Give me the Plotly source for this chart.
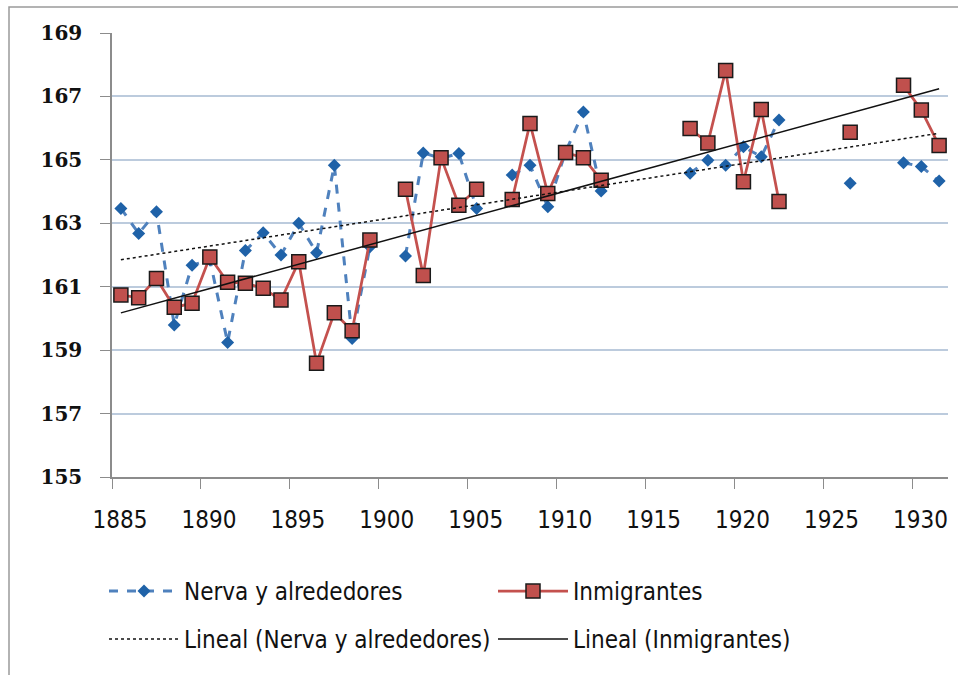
import numpy as np
import plotly.graph_objects as go

# Survey years 1885-1931; None marks years with no recruits measured
years = list(range(1885, 1932))

nerva = [163.47, 162.68, 163.36, 159.79, 161.68, 161.85, 159.24, 162.14, 162.70, 162.00,
         163.00, 162.07, 164.83, 159.37, 162.26, None, 161.97, 165.22, 165.05, 165.20,
         163.47, None, 164.52, 164.83, 163.52, 165.25, 166.51, 164.02, None, None,
         None, None, 164.58, 164.99, 164.83, 165.41, 165.10, 166.26, None, None,
         None, 164.26, None, None, 164.91, 164.79, 164.33]

inmigrantes = [160.74, 160.65, 161.26, 160.35, 160.48, 161.94, 161.14, 161.11, 160.95, 160.58,
               161.79, 158.59, 160.18, 159.61, 162.47, None, 164.07, 161.35, 165.07, 163.57,
               164.07, None, 163.75, 166.15, 163.94, 165.23, 165.07, 164.36, None, None,
               None, None, 165.99, 165.53, 167.82, 164.31, 166.59, 163.69, None, None,
               None, 165.87, None, None, 167.35, 166.57, 165.45]

y_ticks = [155, 157, 159, 161, 163, 165, 167, 169]
x_ticks = [1885, 1890, 1895, 1900, 1905, 1910, 1915, 1920, 1925, 1930]

# each yearly cohort is plotted at mid-year
x = [yr + 0.5 for yr in years]


def linear_trend(xs, ys):
    pts = [(a, b) for a, b in zip(xs, ys) if b is not None]
    px = np.array([p[0] for p in pts])
    py = np.array([p[1] for p in pts])
    slope, icpt = np.polyfit(px, py, 1)
    ends = [px.min(), px.max()]
    return ends, [slope * e + icpt for e in ends]


tn_x, tn_y = linear_trend(x, nerva)
ti_x, ti_y = linear_trend(x, inmigrantes)

W, H = 958, 675
L, R, T, B = 112, 10, 33, 198
SANS = "Liberation Sans Narrow, DejaVu Sans Condensed, sans-serif"

fig = go.Figure()
fig.add_trace(go.Scatter(
    x=x, y=nerva, name="Nerva y alrededores", mode="lines+markers",
    connectgaps=False, legend="legend",
    line=dict(color="#4f81bd", width=3, dash="dash"),
    marker=dict(symbol="diamond", size=10, color="#1f62a8", line=dict(width=0)),
))
fig.add_trace(go.Scatter(
    x=x, y=inmigrantes, name="Inmigrantes", mode="lines+markers",
    connectgaps=False, legend="legend",
    line=dict(color="#c4514e", width=2.75),
    marker=dict(symbol="square", size=14, color="#c0504d",
                line=dict(color="#1a1a1a", width=1.5)),
))
fig.add_trace(go.Scatter(
    x=tn_x, y=tn_y, name="Lineal (Nerva y alrededores)", mode="lines",
    legend="legend2",
    line=dict(color="#111111", width=1.5, dash="dot"),
))
fig.add_trace(go.Scatter(
    x=ti_x, y=ti_y, name="Lineal (Inmigrantes)", mode="lines",
    legend="legend2",
    line=dict(color="#111111", width=1.5),
))

pw = W - L - R
ph = H - T - B
# outer chart frame
fig.add_shape(type="rect", xref="paper", yref="paper",
              x0=(9 - L) / pw, x1=(965 - L) / pw,
              y0=(ph + T - 690) / ph, y1=(ph + T - 7) / ph,
              line=dict(color="#9a9a9a", width=1.5), layer="below")

legend_common = dict(
    orientation="h", xref="container", yref="container",
    x=104 / W, xanchor="left", yanchor="top",
    entrywidth=304, entrywidthmode="pixels", itemwidth=70,
    font=dict(family=SANS, size=24, color="#111111"),
    bgcolor="rgba(0,0,0,0)",
)

fig.update_layout(
    width=W, height=H,
    margin=dict(l=L, r=R, t=T, b=B),
    paper_bgcolor="white", plot_bgcolor="white",
    showlegend=True,
    legend=dict(legend_common, y=1 - 569 / H),
    legend2=dict(legend_common, y=1 - 617 / H),
    xaxis=dict(
        range=[1885, 1932], tickmode="array", tickvals=x_ticks,
        ticktext=[str(t) for t in x_ticks],
        showgrid=False, zeroline=False,
        showline=True, linecolor="#8c8c8c", linewidth=1.5,
        ticks="outside", ticklen=10, tickcolor="#8c8c8c", tickwidth=1.2,
        tickfont=dict(family=SANS, size=24, color="#111111"),
        ticklabelstandoff=10, ticklabelshift=8,
    ),
    yaxis=dict(
        range=[155, 169], tickmode="array", tickvals=y_ticks,
        showgrid=True, gridcolor="#bccbdd", gridwidth=1.5, zeroline=False,
        showline=True, linecolor="#8c8c8c", linewidth=1.5,
        ticks="outside", ticklen=10, tickcolor="#8c8c8c", tickwidth=1.2,
        tickfont=dict(family="DejaVu Serif", size=20, color="#111111", weight="bold"),
        ticklabelstandoff=14,
    ),
)

fig.write_html("out.html")
